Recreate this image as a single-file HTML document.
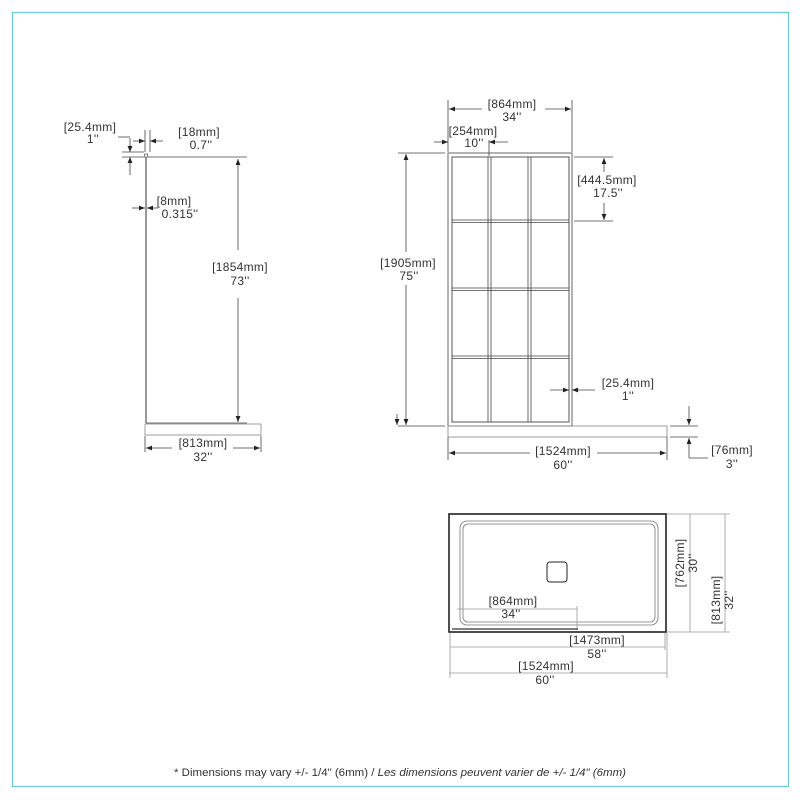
<!DOCTYPE html>
<html><head><meta charset="utf-8"><style>
html,body{margin:0;padding:0;background:#fff}
svg{display:block}
text{font-family:"Liberation Sans",sans-serif;font-size:12px;fill:#333;text-anchor:middle;letter-spacing:0.3px}
</style></head><body>
<svg width="800" height="800" viewBox="0 0 800 800">
<defs>
<marker id="a" viewBox="0 0 10 10" refX="10" refY="5" markerWidth="7" markerHeight="6" orient="auto-start-reverse" markerUnits="userSpaceOnUse"><path d="M0,1 L10,5 L0,9 z" fill="#222"/></marker>
</defs>
<rect x="12.5" y="12.5" width="776" height="774" fill="none" stroke="#6fcbd0" stroke-width="1.3"/>
<g stroke="#444" stroke-width="0.8" fill="none">
<line x1="146" y1="157" x2="146" y2="423" stroke-width="1.5" stroke="#777"/>
<rect x="144.5" y="154" width="3" height="3" stroke="#666"/>
<rect x="145" y="424" width="116" height="11" stroke="#888"/>
<line x1="146" y1="423" x2="247" y2="423"/>
<line x1="148" y1="157" x2="247" y2="157"/>
<line x1="238" y1="159" x2="238" y2="250" marker-start="url(#a)"/>
<line x1="238" y1="298" x2="238" y2="422" marker-end="url(#a)"/>
<line x1="122" y1="152" x2="144" y2="152"/>
<line x1="122" y1="157" x2="144" y2="157"/>
<line x1="130" y1="138" x2="130" y2="152" marker-end="url(#a)"/>
<line x1="130" y1="175" x2="130" y2="157" marker-end="url(#a)"/>
<line x1="118" y1="137" x2="130" y2="137"/>
<line x1="145" y1="130" x2="145" y2="152"/>
<line x1="150" y1="130" x2="150" y2="152"/>
<line x1="133" y1="141" x2="145" y2="141" marker-end="url(#a)"/>
<line x1="163" y1="141" x2="150" y2="141" marker-end="url(#a)"/>
<line x1="132" y1="208" x2="145" y2="208" marker-end="url(#a)"/>
<line x1="158" y1="208" x2="147" y2="208" marker-end="url(#a)"/>
<line x1="145" y1="436" x2="145" y2="452"/>
<line x1="261" y1="436" x2="261" y2="452"/>
<line x1="146" y1="448" x2="172" y2="448" marker-start="url(#a)"/>
<line x1="233" y1="448" x2="260" y2="448" marker-end="url(#a)"/>
<rect x="448" y="153" width="124" height="273" stroke="#666" stroke-width="1"/>
<rect x="452" y="157" width="117" height="265" stroke="#555" stroke-width="1"/>
<line x1="488" y1="157" x2="488" y2="422"/><line x1="491" y1="157" x2="491" y2="422"/>
<line x1="528" y1="157" x2="528" y2="422"/><line x1="531" y1="157" x2="531" y2="422"/>
<line x1="452" y1="220" x2="569" y2="220"/><line x1="452" y1="222.5" x2="569" y2="222.5"/>
<line x1="452" y1="288" x2="569" y2="288"/><line x1="452" y1="290.5" x2="569" y2="290.5"/>
<line x1="452" y1="356" x2="569" y2="356"/><line x1="452" y1="358.5" x2="569" y2="358.5"/>
<rect x="448" y="426" width="219" height="11" stroke="#888"/>
<line x1="448" y1="100" x2="448" y2="152"/>
<line x1="572" y1="100" x2="572" y2="152"/>
<line x1="449" y1="109" x2="482" y2="109" marker-start="url(#a)"/>
<line x1="545" y1="109" x2="571" y2="109" marker-end="url(#a)"/>
<line x1="434" y1="142" x2="448" y2="142" marker-end="url(#a)"/>
<line x1="508" y1="142" x2="489" y2="142" marker-end="url(#a)"/>
<line x1="489" y1="140" x2="489" y2="156"/>
<line x1="398" y1="153" x2="445" y2="153"/>
<line x1="398" y1="426" x2="445" y2="426"/>
<line x1="406" y1="154" x2="406" y2="252" marker-start="url(#a)"/>
<line x1="406" y1="285" x2="406" y2="425" marker-end="url(#a)"/>
<line x1="397" y1="414" x2="397" y2="425" marker-end="url(#a)"/>
<line x1="574" y1="157" x2="613" y2="157"/>
<line x1="574" y1="221" x2="613" y2="221"/>
<line x1="604" y1="158" x2="604" y2="172" marker-start="url(#a)"/>
<line x1="604" y1="203" x2="604" y2="220" marker-end="url(#a)"/>
<line x1="550" y1="390" x2="569" y2="390" marker-end="url(#a)"/>
<line x1="595" y1="390" x2="572" y2="390" marker-end="url(#a)"/>
<line x1="448" y1="437" x2="448" y2="460"/>
<line x1="667" y1="437" x2="667" y2="460"/>
<line x1="449" y1="453" x2="530" y2="453" marker-start="url(#a)"/>
<line x1="597" y1="453" x2="666" y2="453" marker-end="url(#a)"/>
<line x1="670" y1="426" x2="698" y2="426"/>
<line x1="670" y1="437" x2="698" y2="437"/>
<line x1="689" y1="406" x2="689" y2="425" marker-end="url(#a)"/>
<line x1="689" y1="458" x2="689" y2="438" marker-end="url(#a)"/>
<line x1="689" y1="458" x2="708" y2="458"/>
<rect x="449" y="514" width="217" height="118" stroke="#222" stroke-width="1.6"/>
<rect x="460" y="521" width="198" height="104" rx="7" stroke="#777"/>
<rect x="463" y="524" width="192" height="98" rx="5" stroke="#777"/>
<rect x="547" y="562" width="20" height="20" rx="3" stroke="#222" stroke-width="1"/>
<line x1="457" y1="609" x2="577" y2="609" stroke="#999"/>
<line x1="577" y1="606" x2="577" y2="630" stroke="#999"/>
<line x1="452" y1="629" x2="578" y2="629" stroke="#333" stroke-width="1.3"/>
<line x1="667" y1="514" x2="695" y2="514" stroke="#999"/>
<line x1="667" y1="632" x2="695" y2="632" stroke="#999"/>
<line x1="690" y1="514" x2="690" y2="632" stroke="#999"/>
<line x1="695" y1="514" x2="730" y2="514" stroke="#999"/>
<line x1="695" y1="632" x2="730" y2="632" stroke="#999"/>
<line x1="725" y1="514" x2="725" y2="632" stroke="#999"/>
<line x1="450" y1="633" x2="450" y2="678" stroke="#999"/>
<line x1="665" y1="633" x2="665" y2="650" stroke="#999"/>
<line x1="667" y1="633" x2="667" y2="678" stroke="#999"/>
<line x1="450" y1="647" x2="665" y2="647" stroke="#999"/>
<line x1="449" y1="673" x2="667" y2="673" stroke="#999"/>
</g>
<text x="90" y="131">[25.4mm]</text><text x="93" y="143">1''</text>
<text x="199" y="136">[18mm]</text><text x="201" y="149">0.7''</text>
<text x="174" y="205">[8mm]</text><text x="180" y="218">0.315''</text>
<text x="240" y="271">[1854mm]</text><text x="240" y="285">73''</text>
<text x="203" y="447">[813mm]</text><text x="203" y="461">32''</text>
<text x="512" y="108">[864mm]</text><text x="512" y="121">34''</text>
<text x="473" y="135">[254mm]</text><text x="474" y="147">10''</text>
<text x="408" y="267">[1905mm]</text><text x="409" y="280">75''</text>
<text x="607" y="184">[444.5mm]</text><text x="608" y="197">17.5''</text>
<text x="628" y="387">[25.4mm]</text><text x="628" y="400">1''</text>
<text x="563" y="455">[1524mm]</text><text x="563" y="469">60''</text>
<text x="732" y="454">[76mm]</text><text x="732" y="468">3''</text>
<text x="513" y="605">[864mm]</text><text x="511" y="618">34''</text>
<text x="597" y="644">[1473mm]</text><text x="597" y="658">58''</text>
<text x="546" y="670">[1524mm]</text><text x="545" y="684">60''</text>
<text transform="translate(684,563) rotate(-90)">[762mm]</text>
<text transform="translate(697,563) rotate(-90)">30''</text>
<text transform="translate(720,600) rotate(-90)">[813mm]</text>
<text transform="translate(733,600) rotate(-90)">32''</text>
<text x="400" y="776" style="font-size:11px;letter-spacing:0" textLength="452" lengthAdjust="spacingAndGlyphs">* Dimensions may vary +/- 1/4" (6mm) / <tspan font-style="italic">Les dimensions peuvent varier de +/- 1/4" (6mm)</tspan></text>
</svg>
</body></html>
